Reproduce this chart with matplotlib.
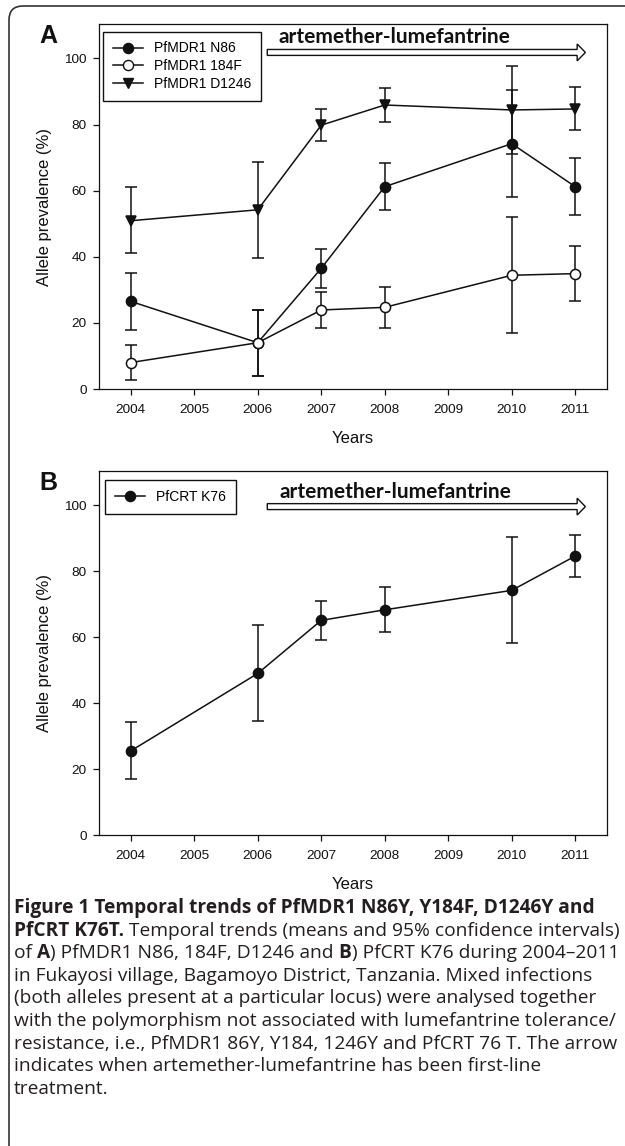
import matplotlib
matplotlib.use('Agg')
import matplotlib.pyplot as plt
import matplotlib.patches as mpatches
import matplotlib.transforms as mtransforms
from matplotlib.path import Path
from matplotlib.lines import Line2D
import numpy as np

# data (allele prevalence %, means and 95% CI)
years = [2004, 2006, 2007, 2008, 2010, 2011]
xticks = [2004, 2005, 2006, 2007, 2008, 2009, 2010, 2011]

n86 = [26.5, 14.0, 36.5, 61.2, 74.2, 61.2]
n86_lo = [17.8, 4.0, 30.7, 54.2, 58.0, 52.6]
n86_hi = [35.2, 24.0, 42.3, 68.3, 90.4, 69.9]

f184 = [8.0, 14.0, 23.9, 24.7, 34.4, 34.9]
f184_lo = [2.7, 4.0, 18.4, 18.5, 16.9, 26.5]
f184_hi = [13.4, 24.0, 29.2, 31.0, 52.0, 43.4]

d1246 = [50.9, 54.2, 79.8, 85.9, 84.4, 84.7]
d1246_lo = [41.0, 39.5, 74.9, 80.8, 71.1, 78.3]
d1246_hi = [61.0, 68.8, 84.8, 90.9, 97.7, 91.2]

k76 = [25.5, 49.0, 65.1, 68.3, 74.2, 84.6]
k76_lo = [16.9, 34.5, 59.2, 61.7, 58.1, 78.3]
k76_hi = [34.2, 63.6, 70.9, 75.1, 90.4, 90.9]

arrow_start, arrow_end = 2006.15, 2011.16   # first-line AL period
arrow_label = 'artemether-lumefantrine'

caption = [
    [('Figure 1 Temporal trends of PfMDR1 N86Y, Y184F, D1246Y and', 'bold')],
    [('PfCRT K76T.', 'bold'), (' Temporal trends (means and 95% confidence intervals)', 'normal')],
    [('of ', 'normal'), ('A', 'bold'), (') PfMDR1 N86, 184F, D1246 and ', 'normal'), ('B', 'bold'),
     (') PfCRT K76 during 2004\u20132011', 'normal')],
    [('in Fukayosi village, Bagamoyo District, Tanzania. Mixed infections', 'normal')],
    [('(both alleles present at a particular locus) were analysed together', 'normal')],
    [('with the polymorphism not associated with lumefantrine tolerance/', 'normal')],
    [('resistance, i.e., PfMDR1 86Y, Y184, 1246Y and PfCRT 76 T. The arrow', 'normal')],
    [('indicates when artemether-lumefantrine has been first-line', 'normal')],
    [('treatment.', 'normal')],
]

W, H = 625, 1146
plt.rcParams['font.family'] = ['Liberation Sans', 'DejaVu Sans']
fig = plt.figure(figsize=(W / 100, H / 100), dpi=100)
fig.patch.set_facecolor('white')


def series(ax, vals, lo, hi, marker, mfc):
  vals, lo, hi = np.array(vals), np.array(lo), np.array(hi)
  ax.errorbar(years, vals, yerr=[vals - lo, hi - vals], fmt='-', color='#111111', lw=1.1,
              elinewidth=1.1, capsize=4, capthick=1.1, zorder=2)
  ax.plot(years, vals, linestyle='none', marker=marker, ms=7.3, mfc=mfc, mec='#111111',
          mew=1.1, zorder=3)


def setup(ax, letter, handles, labels, leg_anchor):
  ax.set_xlim(2003.5, 2011.5)
  ax.set_ylim(0, 110.4)
  ax.set_xticks(xticks)
  ax.set_yticks([0, 20, 40, 60, 80, 100])
  ax.tick_params(direction='out', length=4, width=0.9, labelsize=9.7, colors='#111111',
                 top=False, right=False)
  ax.tick_params(axis='x', pad=7)
  ax.tick_params(axis='y', pad=5)
  for s in ax.spines.values():
    s.set_linewidth(0.9)
    s.set_color('#111111')
  ax.set_xlabel('Years', fontsize=12, color='#111111')
  ax.set_ylabel('Allele prevalence (%)', fontsize=12, color='#111111')
  ax.xaxis.set_label_coords(0.5, -0.115)
  ax.yaxis.set_label_coords(-0.092, 0.5)
  leg = ax.legend(handles, labels, loc='upper left', bbox_to_anchor=leg_anchor,
                  borderaxespad=0, fontsize=10, frameon=True, fancybox=False,
                  edgecolor='#111111', framealpha=1, handlelength=2.2,
                  handletextpad=0.8, borderpad=0.7, labelspacing=0.28)
  leg.get_frame().set_linewidth(1.0)
  ax.add_patch(mpatches.FancyArrow(arrow_start, 0, arrow_end - arrow_start, 0, width=1.8,
                                   head_width=5.1, head_length=0.13, length_includes_head=True,
                                   fc='white', ec='#111111', lw=1.0, clip_on=False))
  ax.text(-0.118, 1.0, letter, transform=ax.transAxes, fontsize=18, fontweight='bold',
          va='top', ha='left', color='#111111')
  return leg


hN86 = Line2D([], [], color='#111111', lw=1.1, marker='o', ms=7.3, mfc='#111111')
h184 = Line2D([], [], color='#111111', lw=1.1, marker='o', ms=7.3, mfc='white')
hD = Line2D([], [], color='#111111', lw=1.1, marker='v', ms=7.3, mfc='#111111')

# panel A
axA = fig.add_axes([99 / W, 1 - 389 / H, 508 / W, 365 / H])
series(axA, n86, n86_lo, n86_hi, 'o', '#111111')
series(axA, d1246, d1246_lo, d1246_hi, 'v', '#111111')
series(axA, f184, f184_lo, f184_hi, 'o', 'white')
setup(axA, 'A', [hN86, h184, hD], ['PfMDR1 N86', 'PfMDR1 184F', 'PfMDR1 D1246'], (0.008, 0.979))
axA.patches[-1].set_data(y=101.8)
axA.text(2006.32, 104.6, arrow_label, fontsize=15, fontweight='bold', family=['Lato', 'DejaVu Sans'],
         va='baseline', ha='left', color='#111111')

# panel B
axB = fig.add_axes([99 / W, 1 - 835 / H, 508 / W, 364 / H])
series(axB, k76, k76_lo, k76_hi, 'o', '#111111')
setup(axB, 'B', [hN86], ['PfCRT K76'], (0.012, 0.975))
axB.patches[-1].set_data(y=99.6)
axB.text(2006.34, 102.3, arrow_label, fontsize=15, fontweight='bold', family=['Lato', 'DejaVu Sans'],
         va='baseline', ha='left', color='#111111')

# rounded outer frame (cut off at the right / bottom like the source page)
r = 14
x0, ytop = 9, H - 6
verts = [(x0, -20), (x0, ytop - r), (x0, ytop), (x0 + r, ytop), (W + 20, ytop)]
codes = [Path.MOVETO, Path.LINETO, Path.CURVE3, Path.CURVE3, Path.LINETO]
fig.add_artist(mpatches.PathPatch(Path(verts, codes), fc='none', ec='#333333', lw=1.2,
                                  transform=mtransforms.IdentityTransform()))

# caption, drawn piece by piece to mix weights
renderer = fig.canvas.get_renderer()
base = 913
for line in caption:
  x = 14
  for txt, weight in line:
    t = fig.text(x / W, 1 - base / H, txt, fontsize=13.8, fontweight=weight,
                 family=['Open Sans', 'DejaVu Sans'], va='baseline', ha='left', color='#231f20')
    x = t.get_window_extent(renderer).x1
  base += 22.6

fig.savefig('out.png', dpi=100)
